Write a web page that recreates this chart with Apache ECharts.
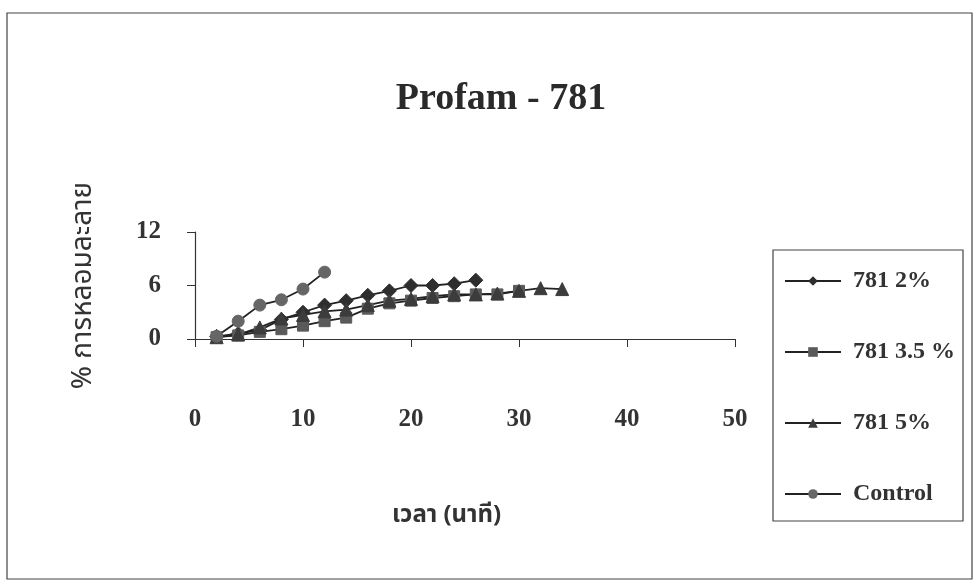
<!DOCTYPE html>
<html>
<head>
<meta charset="utf-8">
<script src="https://cdn.jsdelivr.net/npm/echarts@6/dist/echarts.min.js"></script>
<style>
html,body{margin:0;padding:0;background:#fff;}
#c{width:978px;height:588px;}
</style>
</head>
<body>
<div id="c"></div>
<script>
var xTicks = [0, 10, 20, 30, 40, 50];
var yTicks = [0, 6, 12];
var seriesNames = ['781 2%', '781 3.5 %', '781 5%', 'Control'];
var x2 = [2, 4, 6, 8, 10, 12, 14, 16, 18, 20, 22, 24, 26];
var y2 = [0.3, 0.6, 1.0, 2.2, 3.0, 3.8, 4.3, 4.9, 5.4, 6.0, 6.0, 6.2, 6.6];
var x35 = [2, 4, 6, 8, 10, 12, 14, 16, 18, 20, 22, 24, 26, 28, 30];
var y35 = [0.2, 0.4, 0.8, 1.1, 1.5, 2.0, 2.4, 3.4, 4.0, 4.3, 4.6, 4.8, 5.0, 5.0, 5.4];
var x5 = [2, 4, 6, 8, 10, 12, 14, 16, 18, 20, 22, 24, 26, 28, 30, 32, 34];
var y5 = [0.2, 0.5, 1.3, 2.3, 2.7, 3.1, 3.3, 3.8, 4.3, 4.5, 4.8, 5.0, 5.0, 5.1, 5.4, 5.7, 5.6];
var xC = [2, 4, 6, 8, 10, 12];
var yC = [0.3, 2.0, 3.8, 4.4, 5.6, 7.5];

function pairs(xs, ys){ return xs.map(function(v,i){ return [v, ys[i]]; }); }

var serif = '"Liberation Serif", "Times New Roman", serif';
var thai = '"Noto Sans Thai", "Noto Sans", "DejaVu Sans", sans-serif';

var chart = echarts.init(document.getElementById('c'));
var mk = function(name, data, symbol, color, size){
  return {
    name: name, type: 'line', data: data, symbol: symbol, symbolSize: size,
    lineStyle: {color: '#222', width: 1.8},
    itemStyle: {color: color, borderColor: color},
    animation: false
  };
};
chart.setOption({
  backgroundColor: '#fff',
  animation: false,
  title: {
    text: 'Profam - 781', left: 496, top: 75, textAlign: 'center',
    textStyle: {fontFamily: serif, fontWeight: 'bold', fontSize: 38, color: '#2a2a2a'}
  },
  graphic: [
    {type: 'rect', shape: {x: 7, y: 13, width: 965, height: 566},
     style: {fill: 'none', stroke: '#444', lineWidth: 1.2}, silent: true},
    {type: 'rect', shape: {x: 773, y: 250, width: 190, height: 271},
     style: {fill: 'none', stroke: '#444', lineWidth: 1.2}, silent: true},
    {type: 'text', left: 392, top: 505,
     style: {text: 'เวลา (นาที)', font: 'bold 24px ' + thai, fill: '#333'}}
  ],
  legend: {
    orient: 'vertical', left: 784, top: 269,
    padding: 0, itemGap: 47,
    itemWidth: 56, itemHeight: 12,
    data: seriesNames,
    textStyle: {fontFamily: serif, fontWeight: 'bold', fontSize: 24, color: '#333', padding: [0, 0, 0, 7]}
  },
  grid: {left: 195, right: 243, top: 232, bottom: 249},
  xAxis: {
    type: 'value', min: 0, max: 50, interval: 10,
    axisLine: {show: true, lineStyle: {color: '#333', width: 1.2}},
    axisTick: {show: true, length: 8, lineStyle: {color: '#333'}},
    splitLine: {show: false},
    axisLabel: {margin: 68, fontFamily: serif, fontWeight: 'bold', fontSize: 25, color: '#333',
      formatter: function(v){ return xTicks.indexOf(v) >= 0 ? String(v) : ''; }}
  },
  yAxis: {
    type: 'value', min: 0, max: 12, interval: 6,
    name: '% การหลอมละลาย', nameLocation: 'middle', nameGap: 96, nameRotate: 90,
    nameTextStyle: {fontFamily: thai, fontSize: 28, color: '#333'},
    axisLine: {show: true, lineStyle: {color: '#333', width: 1.2}},
    axisTick: {show: true, length: 8, lineStyle: {color: '#333'}},
    splitLine: {show: false},
    axisLabel: {margin: 34, fontFamily: serif, fontWeight: 'bold', fontSize: 25, color: '#333',
      formatter: function(v){ return yTicks.indexOf(v) >= 0 ? String(v) : ''; }}
  },
  series: [
    mk(seriesNames[0], pairs(x2, y2), 'diamond', '#2e2e2e', 14),
    mk(seriesNames[1], pairs(x35, y35), 'rect', '#5a5a5a', 11),
    mk(seriesNames[2], pairs(x5, y5), 'triangle', '#3c3c3c', 13),
    mk(seriesNames[3], pairs(xC, yC), 'circle', '#666666', 12)
  ]
});
</script>
</body>
</html>
